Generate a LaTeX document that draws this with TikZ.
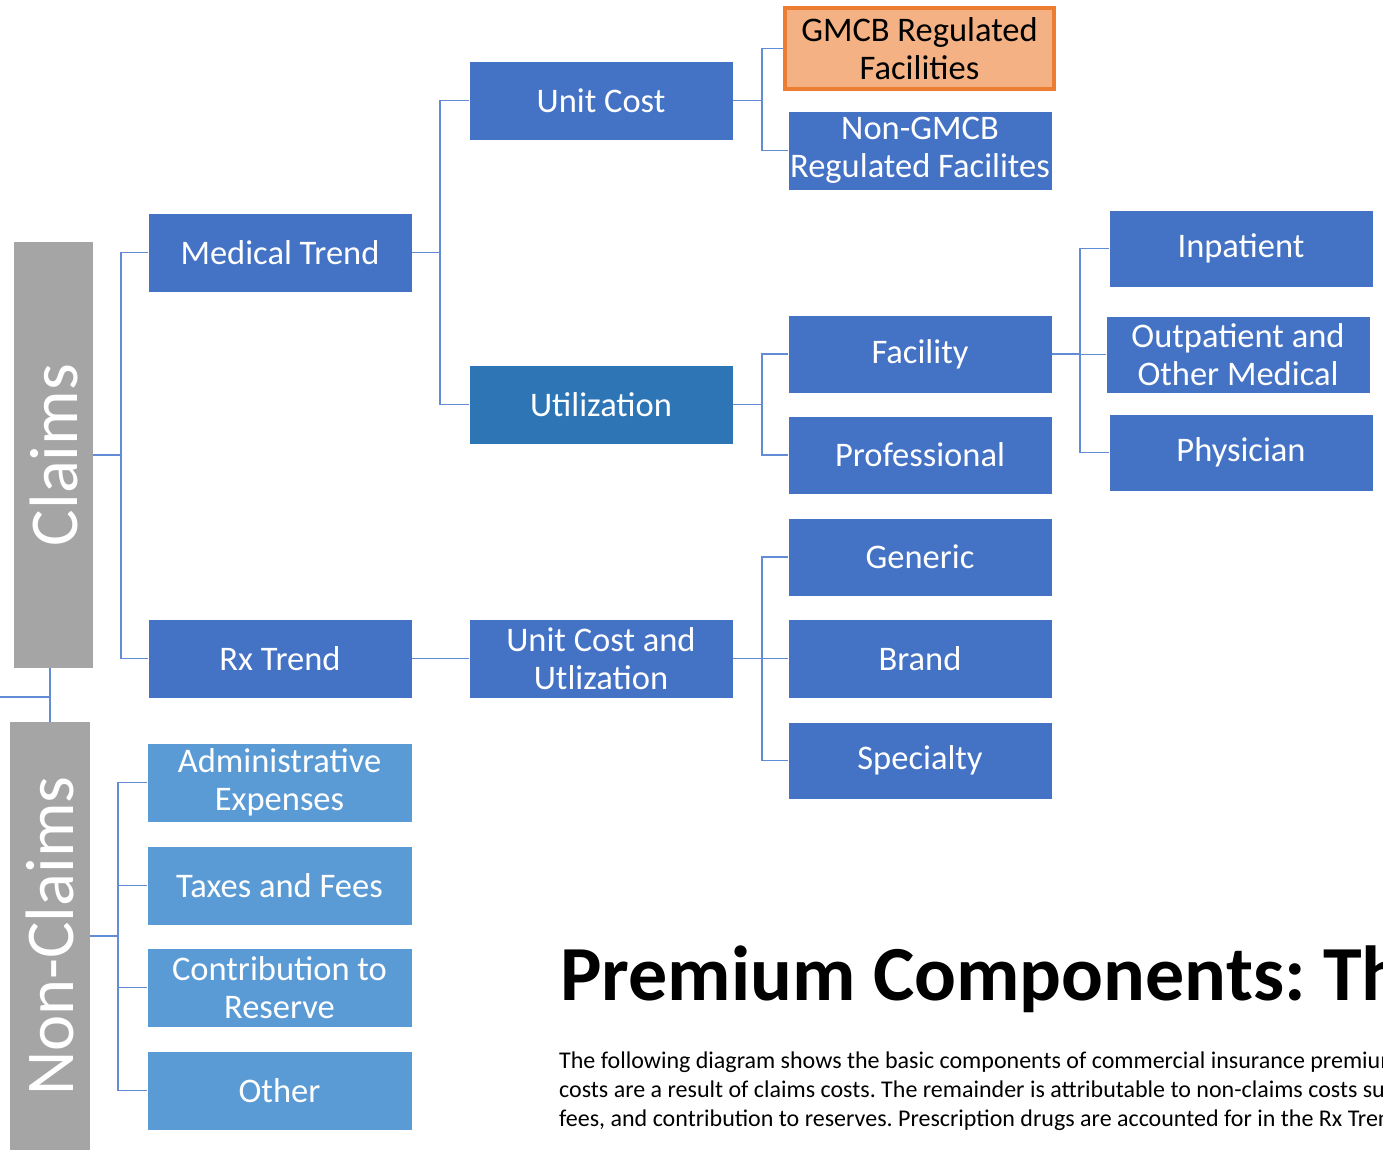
\documentclass[tikz,border=0pt]{standalone}
\usepackage{fontspec}
\setmainfont{Carlito}
\frenchspacing
\definecolor{mblue}{RGB}{68,114,196}
\definecolor{ublue}{RGB}{46,117,182}
\definecolor{lblue}{RGB}{91,155,213}
\definecolor{cgray}{RGB}{165,165,165}
\definecolor{orfill}{RGB}{244,177,131}
\definecolor{orline}{RGB}{237,125,49}
\definecolor{lineblue}{RGB}{98,140,214}
\tikzset{
  box/.style={rectangle, inner sep=0pt, outer sep=0pt, minimum width=264pt, minimum height=79pt,
    fill=mblue, draw=white, line width=0.6pt, text=white, align=center,
    font=\fontsize{34.5}{37.5}\selectfont},
  ubox/.style={box, fill=ublue},
  lbox/.style={box, fill=lblue, minimum width=265pt},
  obox/.style={box, fill=orfill, draw=orline, line width=4pt, text=black, minimum width=269pt, minimum height=81pt},
  bar/.style={rectangle, inner sep=0pt, outer sep=0pt, fill=cgray, text=white, rotate=90,
    font=\fontsize{68.5}{70}\selectfont},
  conn/.style={draw=lineblue, line width=1.8pt},
  para/.style={anchor=base west, inner sep=0pt, font=\fontsize{24}{29}\selectfont, text=black}
}
\begin{document}
\begin{tikzpicture}[x=1pt,y=-1pt]
\useasboundingbox (0,0) rectangle (1383,1153);
\fill[white] (0,0) rectangle (1383,1153);

% gray bars (rotated: south = right side)
\node[bar, minimum width=426pt, minimum height=79pt] (claims) at (53.5,455) {Claims};
\node[bar, minimum width=428pt, minimum height=80pt] (nonclaims) at (50,936) {Non-Claims};

% level 1
\node[box] (med) at (280,252.5) {Medical Trend};
\node[box] (rx) at (280,658.5) {Rx Trend};
\node[lbox] (admin) at (279.5,782.5) {Administrative\\Expenses};
\node[lbox] (taxes) at (279.5,885.5) {Taxes and Fees};
\node[lbox] (contrib) at (279.5,987.5) {Contribution to\\Reserve};
\node[lbox] (other) at (279.5,1090.5) {Other};

% level 2
\node[box] (uc) at (601,100.5) {Unit Cost};
\node[ubox] (util) at (601,404.5) {Utilization};
\node[box] (ucu) at (601,658.5) {Unit Cost and\\Utlization};

% level 3
\node[obox] (gmcb) at (919.5,48.5) {GMCB Regulated\\Facilities};
\node[box] (ngmcb) at (920,150.5) {Non-GMCB\\Regulated Facilites};
\node[box, minimum height=78pt] (fac) at (920,354) {Facility};
\node[box, minimum height=78pt] (prof) at (920,455) {Professional};
\node[box, minimum height=78pt] (generic) at (920,557) {Generic};
\node[box] (brand) at (920,658.5) {Brand};
\node[box, minimum height=77pt] (spec) at (920,760.5) {Specialty};

% level 4
\node[box, minimum height=77pt] (inp) at (1241,248.5) {Inpatient};
\node[box, minimum height=77pt] (outp) at (1238,354.5) {Outpatient and\\Other Medical};
\node[box, minimum height=77pt] (phys) at (1241,452.5) {Physician};

% connectors
\coordinate (lft) at (0,697);
\draw[conn] (claims.west -| nonclaims.center) -- (nonclaims.east);
\draw[conn] (lft) -- (lft -| nonclaims.center);

\draw[conn] (claims.south) -- ++(28,0) |- (med.west);
\draw[conn] (claims.south) -- ++(28,0) |- (rx.west);

\draw[conn] (nonclaims.south) -- ++(28,0) |- (admin.west);
\draw[conn] (nonclaims.south) -- ++(28,0) |- (taxes.west);
\draw[conn] (nonclaims.south) -- ++(28,0) |- (contrib.west);
\draw[conn] (nonclaims.south) -- ++(28,0) |- (other.west);

\draw[conn] (med.east) -- ++(28,0) |- (uc.west);
\draw[conn] (med.east) -- ++(28,0) |- (util.west);
\draw[conn] (rx.east) -- (ucu.west);

\draw[conn] (uc.east) -- ++(29,0) |- ([xshift=-2pt]gmcb.west);
\draw[conn] (uc.east) -- ++(29,0) |- (ngmcb.west);

\draw[conn] (util.east) -- ++(29,0) |- (fac.west);
\draw[conn] (util.east) -- ++(29,0) |- (prof.west);

\draw[conn] (ucu.east) -- ++(29,0) |- (generic.west);
\draw[conn] (ucu.east) -- ++(29,0) |- (brand.west);
\draw[conn] (ucu.east) -- ++(29,0) |- (spec.west);

\draw[conn] (fac.east) -- ++(28,0) |- (inp.west);
\draw[conn] (fac.east) -- ++(28,0) |- (outp.west);
\draw[conn] (fac.east) -- ++(28,0) |- (phys.west);

% title and paragraph
\node[anchor=base west, inner sep=0pt, font=\fontsize{78}{80}\selectfont\bfseries] (title) at (560,1000) {Premium Components: The};
\node[para] (p1) at (559,1068) {The following diagram shows the basic components of commercial insurance premiums};
\node[para] (p2) at (559,1097) {costs are a result of claims costs. The remainder is attributable to non-claims costs such};
\node[para] (p3) at (559,1126) {fees, and contribution to reserves. Prescription drugs are accounted for in the Rx Trend};
\end{tikzpicture}
\end{document}
